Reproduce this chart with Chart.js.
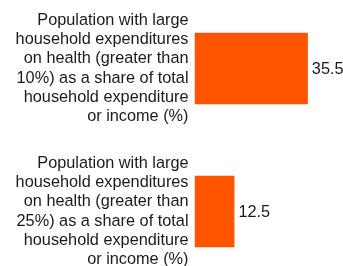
<!DOCTYPE html>
<html>
<head>
<meta charset="utf-8">
<script src="https://cdn.jsdelivr.net/npm/chart.js@4"></script>
<style>
  html, body { margin: 0; padding: 0; background: #fff; overflow: hidden; }
  body { width: 343px; height: 266px; position: relative; }
  #wrap { position: absolute; left: 0; top: -3px; width: 343px; height: 286px; }
</style>
</head>
<body>
<div id="wrap"><canvas id="chart"></canvas></div>
<script>
// Datos
const categorias = [
  ['Population with large', 'household expenditures', 'on health (greater than', '10%) as a share of total', 'household expenditure', 'or income (%)'],
  ['Population with large', 'household expenditures', 'on health (greater than', '25%) as a share of total', 'household expenditure', 'or income (%)']
];
const valores = [35.5, 12.5];

const etiquetasValor = {
  id: 'etiquetasValor',
  afterDatasetsDraw(chart) {
    const ctx = chart.ctx;
    const meta = chart.getDatasetMeta(0);
    ctx.save();
    ctx.font = '16.3px "Liberation Sans", Arial, sans-serif';
    ctx.fillStyle = '#1a1a1a';
    ctx.textAlign = 'left';
    ctx.textBaseline = 'middle';
    meta.data.forEach((bar, i) => {
      ctx.fillText(valores[i].toFixed(1), bar.x + 4, bar.y + 1);
    });
    ctx.restore();
  }
};

const ctx_chart = document.getElementById('chart').getContext('2d');

const barChart = new Chart(ctx_chart, {
  type: 'bar',
  data: {
    labels: categorias,
    datasets: [
      {
        data: valores,
        backgroundColor: '#ff5500',
        barPercentage: 0.5,
        categoryPercentage: 1.0
      }
    ]
  },
  options: {
    indexAxis: 'y',
    responsive: true,
    maintainAspectRatio: false,
    animation: false,
    layout: { padding: 0 },
    plugins: {
      legend: { display: false },
      tooltip: { enabled: false }
    },
    scales: {
      x: {
        display: false,
        min: 0,
        max: 46.5
      },
      y: {
        grid: { display: false, drawTicks: false },
        border: { display: false },
        ticks: {
          color: '#1a1a1a',
          padding: 6,
          font: { family: '"Liberation Sans", Arial, sans-serif', size: 16.3, lineHeight: 1.17 }
        },
        afterFit(scale) {
          scale.width = 194.5;
          // las etiquetas largas no deben encoger el área del gráfico
          scale.paddingTop = 0;
          scale.paddingBottom = 0;
        }
      }
    }
  },
  plugins: [etiquetasValor]
});
</script>
</body>
</html>
